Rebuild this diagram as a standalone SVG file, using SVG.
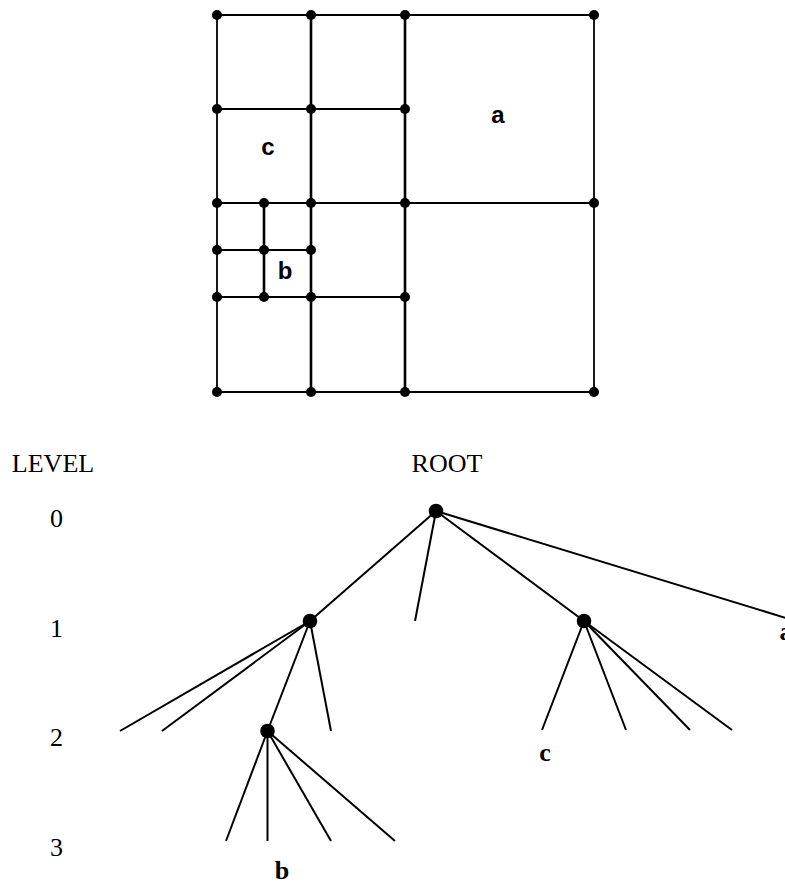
<svg xmlns="http://www.w3.org/2000/svg" width="785" height="884" viewBox="0 0 785 884">
<style>
.g{stroke:#000;stroke-width:2.2;fill:none;stroke-linecap:butt}
.t{stroke:#000;stroke-width:2;fill:none}
.d{fill:#000}
.lab{font-family:"Liberation Sans",Arial,sans-serif;font-weight:bold;font-size:24px;text-anchor:middle;fill:#000}
.ser{font-family:"Liberation Serif","Times New Roman",serif;font-size:26px;text-anchor:middle;fill:#000}
.serb{font-family:"Liberation Serif","Times New Roman",serif;font-size:26px;font-weight:bold;text-anchor:middle;fill:#000}
</style>
<rect width="785" height="884" fill="#fff"/>
<g id="grid">
<g class="g">
<line x1="217" y1="15" x2="594" y2="15"/>
<line x1="217" y1="109" x2="405" y2="109"/>
<line x1="217" y1="203" x2="594" y2="203"/>
<line x1="217" y1="250" x2="311" y2="250"/>
<line x1="217" y1="297" x2="405" y2="297"/>
<line x1="217" y1="392" x2="594" y2="392"/>
<line x1="217" y1="15" x2="217" y2="392" stroke-width="1.8"/>
<line x1="311" y1="15" x2="311" y2="392" stroke-width="2.6"/>
<line x1="405" y1="15" x2="405" y2="392" stroke-width="2.6"/>
<line x1="594" y1="15" x2="594" y2="392" stroke-width="1.8"/>
<line x1="264" y1="203" x2="264" y2="297" stroke-width="2.6"/>
</g>
<g class="d">
<circle cx="217" cy="15" r="5"/><circle cx="311" cy="15" r="5"/><circle cx="405" cy="15" r="5"/><circle cx="594" cy="15" r="5"/>
<circle cx="217" cy="109" r="5"/><circle cx="311" cy="109" r="5"/><circle cx="405" cy="109" r="5"/>
<circle cx="217" cy="203" r="5"/><circle cx="264" cy="203" r="5"/><circle cx="311" cy="203" r="5"/><circle cx="405" cy="203" r="5"/><circle cx="594" cy="203" r="5"/>
<circle cx="217" cy="250" r="5"/><circle cx="264" cy="250" r="5"/><circle cx="311" cy="250" r="5"/>
<circle cx="217" cy="297" r="5"/><circle cx="264" cy="297" r="5"/><circle cx="311" cy="297" r="5"/><circle cx="405" cy="297" r="5"/>
<circle cx="217" cy="392" r="5"/><circle cx="311" cy="392" r="5"/><circle cx="405" cy="392" r="5"/><circle cx="594" cy="392" r="5"/>
</g>
<text class="lab" x="498" y="123">a</text>
<text class="lab" x="268" y="155">c</text>
<text class="lab" x="285" y="279">b</text>
</g>
<g id="labels">
<text class="ser" x="53" y="472">LEVEL</text>
<text class="ser" x="447" y="472">ROOT</text>
<text class="ser" x="56.5" y="527">0</text>
<text class="ser" x="56.5" y="637">1</text>
<text class="ser" x="56.5" y="746">2</text>
<text class="ser" x="56.5" y="856">3</text>
<text class="serb" x="786" y="640">a</text>
<text class="serb" x="545" y="761">c</text>
<text class="serb" x="282" y="879">b</text>
</g>
<g id="connectors" class="t">
<line x1="436" y1="511" x2="310" y2="621"/>
<line x1="436" y1="511" x2="415" y2="621"/>
<line x1="436" y1="511" x2="584" y2="621"/>
<line x1="436" y1="511" x2="786" y2="618"/>
<line x1="310" y1="621" x2="120" y2="731"/>
<line x1="310" y1="621" x2="162" y2="731"/>
<line x1="310" y1="621" x2="267.5" y2="731"/>
<line x1="310" y1="621" x2="331" y2="731"/>
<line x1="584" y1="621" x2="542" y2="730"/>
<line x1="584" y1="621" x2="626" y2="730"/>
<line x1="584" y1="621" x2="690" y2="730"/>
<line x1="584" y1="621" x2="732" y2="730"/>
<line x1="267.5" y1="731" x2="226" y2="841"/>
<line x1="267.5" y1="731" x2="267.5" y2="841"/>
<line x1="267.5" y1="731" x2="331" y2="841"/>
<line x1="267.5" y1="731" x2="395" y2="841"/>
</g>
<g id="node-root"><circle class="d" cx="436" cy="511" r="7.3"/></g>
<g id="node-l1a"><circle class="d" cx="310" cy="621" r="7.3"/></g>
<g id="node-l1b"><circle class="d" cx="584" cy="621" r="7.3"/></g>
<g id="node-l2"><circle class="d" cx="267.5" cy="731" r="7.3"/></g>
</svg>
